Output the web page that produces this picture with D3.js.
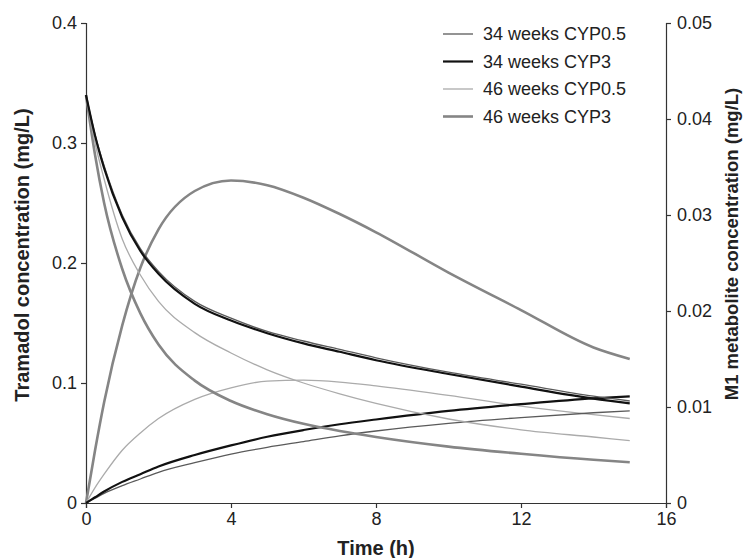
<!DOCTYPE html>
<html>
<head>
<meta charset="utf-8">
<script src="https://cdn.jsdelivr.net/npm/d3@7"></script>
<style>
  body { margin: 0; background: #fff; }
  text { font-family: "Liberation Sans", Arial, sans-serif; fill: #222; }
</style>
</head>
<body>
<div id="chart"></div>
<script>
// time points (h)
var hours = [0, 0.25, 0.5, 1, 1.5, 2, 3, 4, 5, 6, 7, 8, 10, 12, 14, 15];

// tramadol (left axis, mg/L)
var tram34cyp05 = [0.34, 0.307, 0.281, 0.240, 0.212, 0.193, 0.168, 0.154, 0.143, 0.135, 0.128, 0.121, 0.109, 0.099, 0.089, 0.085];
var tram34cyp3  = [0.34, 0.306, 0.279, 0.238, 0.210, 0.191, 0.166, 0.152, 0.1415, 0.133, 0.126, 0.119, 0.1075, 0.097, 0.087, 0.083];
var tram46cyp05 = [0.34, 0.300, 0.270, 0.220, 0.190, 0.168, 0.142, 0.125, 0.111, 0.100, 0.091, 0.083, 0.070, 0.061, 0.055, 0.052];
var tram46cyp3  = [0.34, 0.290, 0.250, 0.195, 0.158, 0.132, 0.102, 0.085, 0.074, 0.066, 0.060, 0.055, 0.047, 0.041, 0.036, 0.034];

// M1 metabolite (right axis, mg/L)
var m134cyp05 = [0, 0.0005, 0.0010, 0.0018, 0.0025, 0.0032, 0.0042, 0.0051, 0.0058, 0.0064, 0.0070, 0.0075, 0.0083, 0.0089, 0.0094, 0.0096];
var m134cyp3  = [0, 0.0006, 0.0012, 0.0022, 0.0030, 0.0038, 0.0050, 0.0060, 0.0069, 0.0076, 0.0082, 0.0087, 0.0096, 0.0103, 0.0109, 0.0111];
var m146cyp05 = [0, 0.0016, 0.0030, 0.0055, 0.0073, 0.0088, 0.0108, 0.0120, 0.0127, 0.0128, 0.0126, 0.0122, 0.0112, 0.0101, 0.0092, 0.0088];
var m146cyp3  = [0, 0.0055, 0.0105, 0.0185, 0.0245, 0.0285, 0.0325, 0.0336, 0.0331, 0.0318, 0.0301, 0.0282, 0.0240, 0.0201, 0.0162, 0.0150];

var seriesNames = ["34 weeks CYP0.5", "34 weeks CYP3", "46 weeks CYP0.5", "46 weeks CYP3"];
var xTicks = [0, 4, 8, 12, 16];
var yLeftTicks = [0, 0.1, 0.2, 0.3, 0.4];
var yRightTicks = [0, 0.01, 0.02, 0.03, 0.04, 0.05];

var styles = [
  {color: "#5a5a5a", w: 1.3},
  {color: "#111111", w: 2.2},
  {color: "#ababab", w: 1.3},
  {color: "#858585", w: 2.6}
];

var margin = {top: 23, right: 78, bottom: 55, left: 86},
    width = 744 - margin.left - margin.right,
    height = 558 - margin.top - margin.bottom;

var svg = d3.select("#chart").append("svg")
  .attr("width", 744)
  .attr("height", 558);

var chartGroup = svg.append("g")
  .attr("transform", `translate(${margin.left}, ${margin.top})`);

var x = d3.scaleLinear().domain([0, 16]).range([0, width]);
var yL = d3.scaleLinear().domain([0, 0.4]).range([height, 0]);
var yR = d3.scaleLinear().domain([0, 0.05]).range([height, 0]);

// axes
var xAxis = chartGroup.append("g")
  .attr("transform", "translate(0," + height + ")")
  .call(d3.axisBottom(x).tickValues(xTicks).tickSize(5).tickPadding(4).tickFormat(d3.format("d")));

var leftAxis = chartGroup.append("g")
  .call(d3.axisLeft(yL).tickValues(yLeftTicks).tickSize(5).tickPadding(4).tickFormat(d => d === 0 ? "0" : d3.format(".1f")(d)));

var rightAxis = chartGroup.append("g")
  .attr("transform", "translate(" + width + ",0)")
  .call(d3.axisRight(yR).tickValues(yRightTicks).tickSize(5).tickPadding(6).tickFormat(d => d === 0 ? "0" : d3.format(".2f")(d)));

[xAxis, leftAxis, rightAxis].forEach(a => {
  a.select(".domain").attr("stroke", "#333").attr("stroke-width", 1.2);
  a.selectAll(".tick line").attr("stroke", "#333").attr("stroke-width", 1.2);
  a.selectAll("text").style("font-size", "18px").style("fill", "#222")
    .style("font-family", "'Liberation Sans', Arial, sans-serif");
});

// lines
var tramSeries = [tram34cyp05, tram34cyp3, tram46cyp05, tram46cyp3];
var m1Series = [m134cyp05, m134cyp3, m146cyp05, m146cyp3];

var lineL = d3.line().x((d, i) => x(hours[i])).y(d => yL(d)).curve(d3.curveMonotoneX);
var lineR = d3.line().x((d, i) => x(hours[i])).y(d => yR(d)).curve(d3.curveMonotoneX);

// draw so the black line sits on top
var order = [3, 2, 0, 1];
order.forEach(k => {
  chartGroup.append("path")
    .datum(m1Series[k])
    .attr("d", lineR)
    .attr("fill", "none")
    .attr("stroke", styles[k].color)
    .attr("stroke-width", styles[k].w);
});
order.forEach(k => {
  chartGroup.append("path")
    .datum(tramSeries[k])
    .attr("d", lineL)
    .attr("fill", "none")
    .attr("stroke", styles[k].color)
    .attr("stroke-width", styles[k].w);
});

// legend
var legend = svg.append("g").attr("transform", "translate(443, 34)");
seriesNames.forEach((name, i) => {
  var row = legend.append("g").attr("transform", "translate(0," + (i * 27.5) + ")");
  row.append("line")
    .attr("x1", 0).attr("x2", 30).attr("y1", 0).attr("y2", 0)
    .attr("stroke", styles[i].color)
    .attr("stroke-width", styles[i].w);
  row.append("text")
    .attr("x", 40).attr("y", 6)
    .style("font-size", "18px")
    .text(name);
});

// axis titles
svg.append("text")
  .attr("transform", "translate(29,255) rotate(-90)")
  .attr("text-anchor", "middle")
  .style("font-size", "20px")
  .style("font-weight", "bold")
  .text("Tramadol concentration (mg/L)");

svg.append("text")
  .attr("transform", "translate(738,244) rotate(-90)")
  .attr("text-anchor", "middle")
  .style("font-size", "18.5px")
  .style("font-weight", "bold")
  .text("M1 metabolite concentration (mg/L)");

svg.append("text")
  .attr("x", margin.left + x(8))
  .attr("y", 555)
  .attr("text-anchor", "middle")
  .style("font-size", "20px")
  .style("font-weight", "bold")
  .text("Time (h)");
</script>
</body>
</html>
